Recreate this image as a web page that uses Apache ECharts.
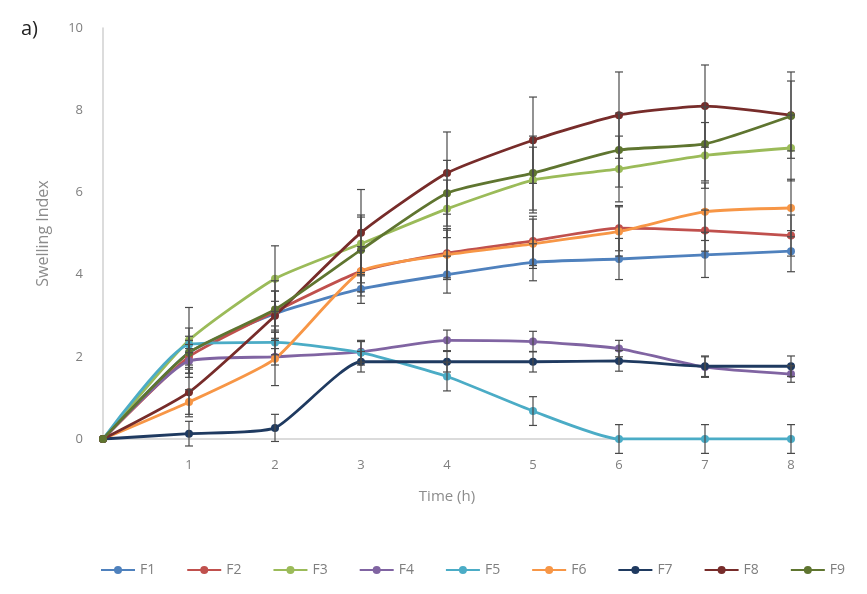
<!DOCTYPE html>
<html>
<head>
<meta charset="utf-8">
<script src="https://cdn.jsdelivr.net/npm/echarts@6/dist/echarts.min.js"></script>
<style>
  html, body { margin: 0; padding: 0; background: #fff; }
  #chart { width: 867px; height: 594px; }
</style>
</head>
<body>
<div id="chart"></div>
<script>
// time points (h)
var times = [0, 1, 2, 3, 4, 5, 6, 7, 8]
var seriesNames = ['F1', 'F2', 'F3', 'F4', 'F5', 'F6', 'F7', 'F8', 'F9']
var seriesColors = ['#4F81BD', '#C0504D', '#9BBB59', '#8064A2', '#4BACC6', '#F79646', '#1F3A60', '#772C2A', '#5F7530']

// mean swelling index
var f1 = [0, 2.1, 3.05, 3.65, 4.0, 4.3, 4.38, 4.48, 4.57]
var f2 = [0, 2.0, 3.1, 4.08, 4.52, 4.82, 5.13, 5.07, 4.95]
var f3 = [0, 2.4, 3.9, 4.75, 5.6, 6.3, 6.57, 6.9, 7.08]
var f4 = [0, 1.9, 2.0, 2.12, 2.4, 2.37, 2.2, 1.75, 1.58]
var f5 = [0, 2.3, 2.35, 2.1, 1.52, 0.68, 0, 0, 0]
var f6 = [0, 0.9, 1.95, 4.08, 4.48, 4.75, 5.05, 5.53, 5.62]
var f7 = [0, 0.13, 0.27, 1.88, 1.88, 1.88, 1.9, 1.77, 1.77]
var f8 = [0, 1.14, 3.0, 5.02, 6.47, 7.27, 7.88, 8.1, 7.88]
var f9 = [0, 2.1, 3.15, 4.6, 5.98, 6.47, 7.03, 7.18, 7.86]

// standard deviation (error bars)
var e1 = [0, 0.3, 0.3, 0.35, 0.45, 0.45, 0.5, 0.55, 0.5]
var e2 = [0, 0.3, 0.5, 0.5, 0.6, 0.6, 0.55, 0.5, 0.5]
var e3 = [0, 0.8, 0.8, 0.7, 0.7, 0.8, 0.8, 0.8, 0.8]
var e4 = [0, 0.3, 0.2, 0.25, 0.25, 0.25, 0.2, 0.25, 0.2]
var e5 = [0, 0.2, 0.3, 0.3, 0.35, 0.35, 0.35, 0.35, 0.35]
var e6 = [0, 0.3, 0.65, 0.6, 0.6, 0.6, 0.6, 0.7, 0.7]
var e7 = [0, 0.3, 0.33, 0.25, 0.25, 0.25, 0.25, 0.25, 0.25]
var e8 = [0, 0.6, 0.6, 1.05, 1.0, 1.05, 1.05, 1.0, 1.05]
var e9 = [0, 0.6, 0.7, 0.8, 0.8, 0.9, 0.9, 0.9, 0.85]

var means = [f1, f2, f3, f4, f5, f6, f7, f8, f9]
var errors = [e1, e2, e3, e4, e5, e6, e7, e8, e9]

var chart = echarts.init(document.getElementById('chart'))

function renderErrorBar(params, api) {
  var x = api.value(0)
  var lo = api.coord([x, api.value(1)])
  var hi = api.coord([x, api.value(2)])
  var half = 4
  var style = { stroke: '#4a4a4a', lineWidth: 1.2 }
  return {
    type: 'group',
    children: [
      { type: 'line', shape: { x1: hi[0], y1: hi[1], x2: lo[0], y2: lo[1] }, style: style },
      { type: 'line', shape: { x1: hi[0] - half, y1: hi[1], x2: hi[0] + half, y2: hi[1] }, style: style },
      { type: 'line', shape: { x1: lo[0] - half, y1: lo[1], x2: lo[0] + half, y2: lo[1] }, style: style }
    ]
  }
}

var series = []
seriesNames.forEach(function(name, i) {
  series.push({
    name: name,
    type: 'line',
    smooth: 0.18,
    symbol: 'circle',
    symbolSize: 8,
    z: 3,
    lineStyle: { width: 2.8, color: seriesColors[i] },
    itemStyle: { color: seriesColors[i] },
    data: times.map(function(t, k) { return [t, means[i][k]] })
  })
})
seriesNames.forEach(function(name, i) {
  series.push({
    name: name,
    type: 'custom',
    z: 4,
    renderItem: renderErrorBar,
    encode: { x: 0, y: [1, 2] },
    data: times.map(function(t, k) {
      return [t, means[i][k] - errors[i][k], means[i][k] + errors[i][k]]
    }).filter(function(d) { return d[2] > d[1] })
  })
})

chart.setOption({
  animation: false,
  textStyle: { fontFamily: 'Open Sans' },
  title: {
    text: 'a)',
    left: 16,
    top: 14,
    textStyle: { fontSize: 20, fontWeight: 'normal', color: '#222' }
  },
  grid: { left: 103, right: 76, top: 28, bottom: 155 },
  legend: {
    data: seriesNames,
    bottom: 12,
    left: 95,
    itemWidth: 34,
    itemHeight: 10,
    itemGap: 31,
    textStyle: { color: '#7f7f7f', fontSize: 14 }
  },
  xAxis: {
    type: 'value',
    min: 0,
    max: 8,
    interval: 1,
    name: 'Time (h)',
    nameLocation: 'middle',
    nameGap: 50,
    nameTextStyle: { color: '#8c8c8c', fontSize: 15 },
    axisLine: { lineStyle: { color: '#d0d0d0', width: 1.5 } },
    axisTick: { show: false },
    splitLine: { show: false },
    axisLabel: {
      color: '#7f7f7f',
      fontSize: 13,
      margin: 20,
      formatter: function(v) { return v === 0 ? '' : v }
    }
  },
  yAxis: {
    type: 'value',
    min: 0,
    max: 10,
    interval: 2,
    name: 'Swelling Index',
    nameLocation: 'middle',
    nameGap: 52,
    nameTextStyle: { color: '#8c8c8c', fontSize: 16 },
    axisLine: { show: true, lineStyle: { color: '#d0d0d0', width: 1.5 } },
    axisTick: { show: false },
    splitLine: { show: false },
    axisLabel: { color: '#7f7f7f', fontSize: 13, margin: 20 }
  },
  series: series
})
</script>
</body>
</html>
